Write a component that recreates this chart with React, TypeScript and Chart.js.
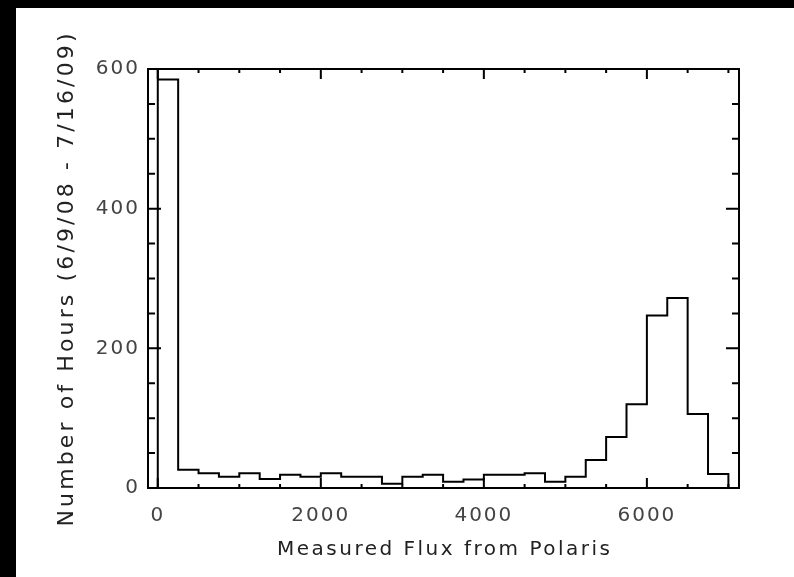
import { useEffect, useRef } from 'react';
import { Chart, registerables } from 'chart.js';

Chart.register(...registerables);

// ---- data ----
const binStart = 0;
const binWidth = 250;
const counts = [585, 26, 21, 16, 21, 13, 19, 16, 21, 16, 16, 6, 16, 19, 9, 12, 19, 19, 21, 9, 16, 40, 73, 120, 247, 272, 106, 20];
const xTickValues = [0, 2000, 4000, 6000];
const yTickValues = [0, 200, 400, 600];
const xTitle = 'Measured Flux from Polaris';
const yTitle = 'Number of Hours (6/9/08 - 7/16/09)';

const xMin = -120;
const xMax = 7130;
const yMin = 0;
const yMax = 600;

const W = 778;
const H = 569;

function buildPoints() {
  const pts: { x: number; y: number }[] = [];
  pts.push({ x: binStart, y: 0 });
  pts.push({ x: binStart, y: yMax });
  counts.forEach((c, i) => pts.push({ x: binStart + i * binWidth, y: c }));
  const end = binStart + counts.length * binWidth;
  pts.push({ x: end, y: counts[counts.length - 1] });
  pts.push({ x: end, y: 0 });
  return pts;
}

function drawSpaced(ctx: CanvasRenderingContext2D, text: string, cx: number, cy: number, target: number, rotate: boolean, font: string, color: string) {
  ctx.save();
  ctx.translate(cx, cy);
  if (rotate) ctx.rotate(-Math.PI / 2);
  ctx.font = font;
  ctx.fillStyle = color;
  (ctx as any).letterSpacing = '0px';
  const w = ctx.measureText(text).width;
  const sp = (target - w) / (text.length - 1);
  (ctx as any).letterSpacing = sp + 'px';
  ctx.textAlign = 'left';
  ctx.textBaseline = 'alphabetic';
  ctx.fillText(text, -target / 2, 0);
  ctx.restore();
}

const framePlugin = {
  id: 'idlFrame',
  beforeDraw(chart: any) {
    (chart.ctx as any).letterSpacing = '2px';
  },
  afterDatasetsDraw(chart: any) {
    const { ctx, chartArea, scales } = chart;
    const { left, right, top, bottom } = chartArea;
    const xs = scales.x;
    const ys = scales.y;
    ctx.save();
    (ctx as any).letterSpacing = '0px';
    ctx.strokeStyle = '#000';
    ctx.lineWidth = 2;
    ctx.lineCap = 'butt';
    ctx.strokeRect(left, top, right - left, bottom - top);
    ctx.beginPath();
    for (let v = 0; v <= 7000; v += 500) {
      const px = xs.getPixelForValue(v);
      const len = v % 2000 === 0 ? 10 : 4;
      ctx.moveTo(px, bottom);
      ctx.lineTo(px, bottom - len);
      ctx.moveTo(px, top);
      ctx.lineTo(px, top + len);
    }
    for (let v = 0; v <= 600; v += 50) {
      const py = ys.getPixelForValue(v);
      const len = v % 200 === 0 ? 13 : 7;
      ctx.moveTo(left, py);
      ctx.lineTo(left + len, py);
      ctx.moveTo(right, py);
      ctx.lineTo(right - len, py);
    }
    ctx.stroke();
    ctx.restore();
  },
  afterDraw(chart: any) {
    const ctx = chart.ctx as CanvasRenderingContext2D;
    drawSpaced(ctx, xTitle, 427.5, 547, 333, false, '20px "DejaVu Sans"', '#222');
    drawSpaced(ctx, yTitle, 56.5, 272, 493, true, '22px "DejaVu Sans"', '#222');
    (ctx as any).letterSpacing = '0px';
  },
};

export default function App() {
  const ref = useRef<HTMLCanvasElement | null>(null);
  useEffect(() => {
    if (!ref.current) return;
    const tickFont = { family: '"DejaVu Sans"', size: 20 };
    const chart = new Chart(ref.current, {
      type: 'line',
      data: {
        datasets: [
          {
            data: buildPoints(),
            stepped: 'before',
            borderColor: '#000',
            borderWidth: 2,
            pointRadius: 0,
            fill: false,
          },
        ],
      },
      options: {
        animation: false,
        responsive: false,
        maintainAspectRatio: false,
        layout: { padding: { top: 61, right: 55, left: 0, bottom: 0 } },
        plugins: { legend: { display: false }, tooltip: { enabled: false } },
        scales: {
          x: {
            type: 'linear',
            min: xMin,
            max: xMax,
            afterBuildTicks: (s: any) => {
              s.ticks = xTickValues.map((v) => ({ value: v }));
            },
            afterFit: (s: any) => {
              s.height = 89;
            },
            grid: { display: false, drawTicks: false },
            border: { display: false },
            ticks: {
              font: tickFont,
              color: '#444',
              padding: 16,
              maxRotation: 0,
              autoSkip: false,
              callback: (v: any) => String(v),
            },
          },
          y: {
            type: 'linear',
            min: yMin,
            max: yMax,
            afterBuildTicks: (s: any) => {
              s.ticks = yTickValues.map((v) => ({ value: v }));
            },
            afterFit: (s: any) => {
              s.width = 132;
            },
            grid: { display: false, drawTicks: false },
            border: { display: false },
            ticks: {
              font: tickFont,
              color: '#444',
              padding: 8,
              autoSkip: false,
              callback: (v: any) => String(v),
            },
          },
        },
      },
      plugins: [framePlugin],
    });
    return () => chart.destroy();
  }, []);

  return (
    <div style={{ position: 'fixed', left: 0, top: 0, width: 794, height: 577, background: '#000', overflow: 'hidden' }}>
      <div style={{ position: 'absolute', left: 16, top: 8, width: W, height: H, background: '#fff' }}>
        <canvas ref={ref} width={W} height={H} style={{ width: W, height: H, display: 'block' }} />
      </div>
    </div>
  );
}
